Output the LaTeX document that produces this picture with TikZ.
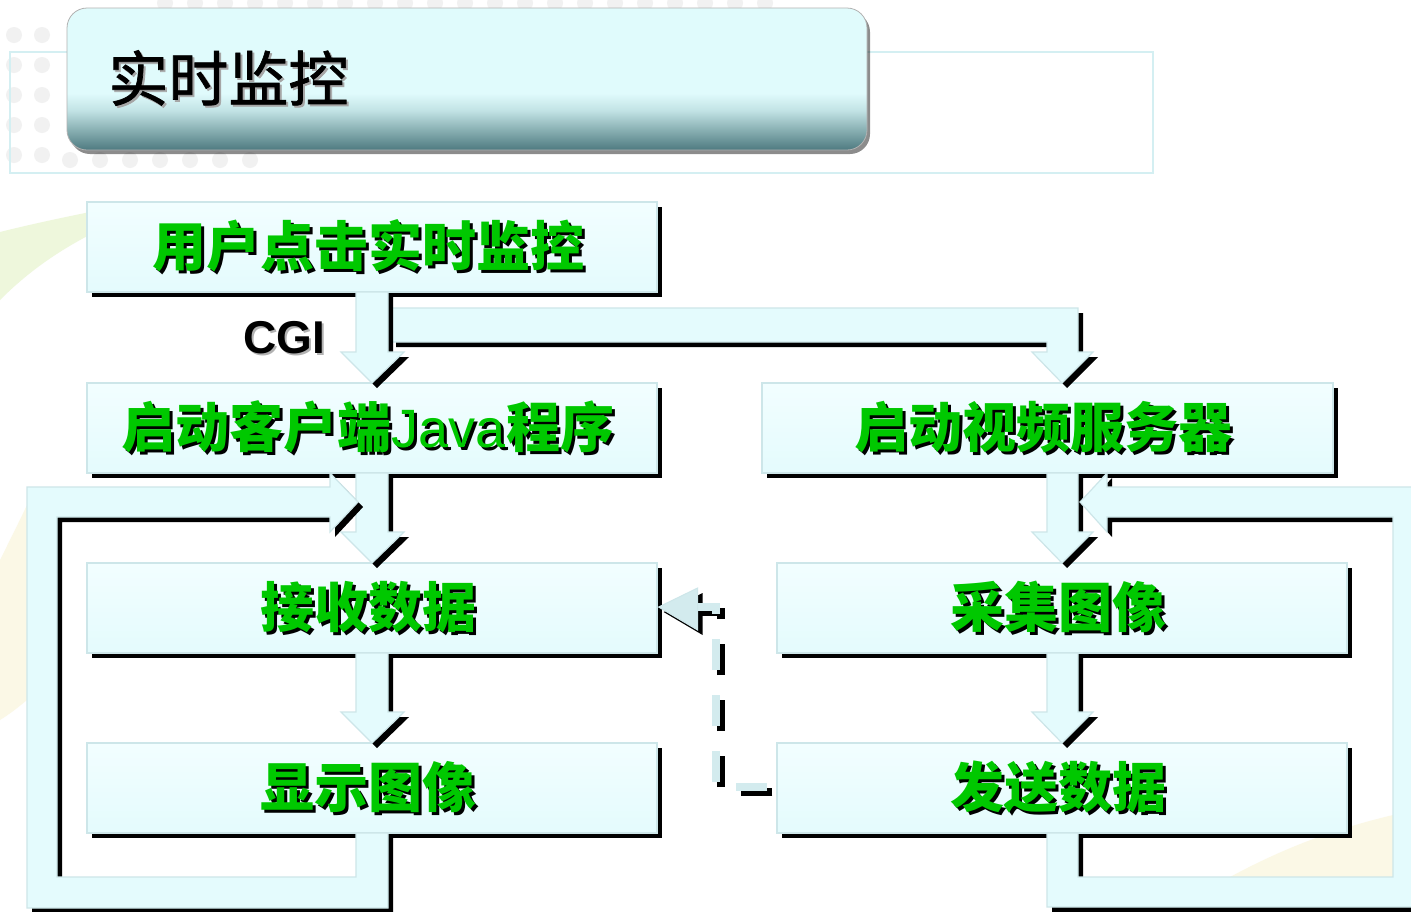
\documentclass[tikz,border=0pt]{standalone}
\usepackage{fontspec}
\setmainfont{Liberation Sans}
\newfontfamily\lat{Liberation Sans}
\newfontfamily\cjk{Noto Sans CJK SC}
\newfontfamily\cjkt[FakeBold=1.2]{Noto Sans CJK SC}
\usetikzlibrary{shadows}
\definecolor{boxfill}{HTML}{E4FBFD}
\definecolor{boxtop}{HTML}{F2FEFF}
\definecolor{boxline}{HTML}{CDE6E9}
\definecolor{txtgreen}{HTML}{00C800}
\definecolor{dashc}{HTML}{D3EBEE}
\definecolor{tdark}{HTML}{4E7A80}
\definecolor{tmid}{HTML}{88AFB2}
\definecolor{tlite}{HTML}{C2E3E5}
\definecolor{ttop}{HTML}{E0FBFC}
\definecolor{frameline}{HTML}{D4EFF2}
\definecolor{bandgreen}{HTML}{EEF7DC}
\definecolor{bandyellow}{HTML}{FBF8E6}
\definecolor{dotgray}{HTML}{F1F1F1}
\pgfdeclareverticalshading{titleshade}{100bp}{color(0bp)=(tdark); color(25bp)=(tdark); color(32bp)=(tmid); color(39bp)=(tlite); color(45bp)=(ttop); color(75bp)=(ttop); color(100bp)=(ttop)}
\tikzset{
  box/.style={draw=boxline, line width=0.6pt, top color=boxtop, bottom color=boxfill,
    minimum width=285pt, minimum height=45pt, inner sep=0pt,
    drop shadow={shadow xshift=2.5pt, shadow yshift=-2.5pt, fill=black, opacity=1}},
  gtxt/.style={text=txtgreen, font=\cjk\bfseries\fontsize{27}{30}\selectfont, inner sep=0pt},
  gsh/.style={text=black, font=\cjk\bfseries\fontsize{27}{30}\selectfont, inner sep=0pt},
  arrowfill/.style={draw=boxline, line width=0.6pt, fill=boxfill},
  titlebox/.style={shading=titleshade, draw=gray!60, line width=0.4pt, rounded corners=10pt,
    minimum width=400pt, minimum height=71pt, inner sep=0pt,
    drop shadow={shadow xshift=1.5pt, shadow yshift=-2pt, fill=black, opacity=0.45}},
  dashline/.style={line width=4pt, dash pattern=on 15.5pt off 12.5pt, dash phase=23.5pt},
}
\newcommand\blockarrow[1]{%
  \begin{scope}[shift={(5,5)}]\fill[black] #1;\end{scope}
  \filldraw[arrowfill] #1;}
\newcommand\boxlabel[3]{%
  \node[gsh] (#2s) at ([shift={(-1,2)}]#1.center) {#3};
  \node[gtxt] (#2) at ([shift={(-4,-1)}]#1.center) {#3};}
\begin{document}
\begin{tikzpicture}[x=0.5pt,y=-0.5pt]
\useasboundingbox (0,0) rectangle (1411,911);
\fill[white] (0,0) rectangle (1411,911);
% faint background bands and dots
\fill[bandgreen] (0,232) .. controls (40,222) and (80,214) .. (110,208) -- (95,232) .. controls (60,250) and (30,270) .. (0,300) -- cycle;
\fill[bandyellow] (0,560) .. controls (10,540) and (20,520) .. (27,505) -- (27,700) .. controls (15,710) and (8,715) .. (0,720) -- cycle;
\fill[bandyellow] (1230,877) .. controls (1280,850) and (1330,830) .. (1393,815) -- (1393,877) -- cycle;
\foreach \x in {165,195,...,765} \fill[dotgray] (\x,3) circle (8);
\foreach \y in {35,65,...,155} {\fill[dotgray] (14,\y) circle (8); \fill[dotgray] (42,\y) circle (8);}
\foreach \x in {70,100,...,250} \fill[dotgray] (\x,160) circle (8);
% faint frame behind the title
\draw[frameline, line width=0.6pt] (10,52) rectangle (1153,173);
% title
\node[titlebox] (title) at (467,79) {};
\node[text=gray!70, font=\cjkt\fontsize{30}{32}\selectfont, anchor=west, inner sep=0pt] (tts) at (110,80) {实时监控};
\node[text=black, font=\cjkt\fontsize{30}{32}\selectfont, anchor=west, inner sep=0pt] (tt) at (108,78) {实时监控};
% boxes
\node[box] (b1) at (372,247) {};
\node[box] (b2) at (372,428) {};
\node[box, minimum width=285.5pt] (b3) at (1047.5,428) {};
\node[box] (b4) at (372,608) {};
\node[box] (b5) at (372,788) {};
\node[box] (b6) at (1062,608) {};
\node[box] (b7) at (1062,788) {};
% block arrows
\blockarrow{(391,308) -- (1078,308) -- (1078,352) -- (1093,352) -- (1062,383) -- (1032,352) -- (1047,352) -- (1047,342) -- (391,342) -- cycle}
\blockarrow{(356,292) -- (388,292) -- (388,352) -- (404,352) -- (372,383) -- (341,352) -- (356,352) -- cycle}
\blockarrow{(356,473) -- (388,473) -- (388,532) -- (404,532) -- (372,563) -- (341,532) -- (356,532) -- cycle}
\blockarrow{(356,653) -- (388,653) -- (388,712) -- (404,712) -- (372,743) -- (341,712) -- (356,712) -- cycle}
\blockarrow{(1047,473) -- (1078,473) -- (1078,532) -- (1093,532) -- (1062,563) -- (1032,532) -- (1047,532) -- cycle}
\blockarrow{(1047,653) -- (1078,653) -- (1078,712) -- (1093,712) -- (1062,743) -- (1032,712) -- (1047,712) -- cycle}
% left loop
\blockarrow{(356,833) -- (388,833) -- (388,908) -- (27,908) -- (27,487) -- (330,487) -- (330,473) -- (358,502) -- (330,532) -- (330,517) -- (57,517) -- (57,877) -- (356,877) -- cycle}
% right loop
\blockarrow{(1047,833) -- (1078,833) -- (1078,877) -- (1393,877) -- (1393,517) -- (1107,517) -- (1107,532) -- (1080,502) -- (1107,473) -- (1107,487) -- (1423,487) -- (1423,907) -- (1047,907) -- cycle}
% dashed feedback arrow
\draw[black, dashline] ([shift={(5,4)}]b7.west) -- ++(-60,0) -- ++(0,-180) -- ++(-22,0);
\fill[black] ([shift={(6,4)}]b4.east) -- ++(39,-19) -- ++(0,42) -- cycle;
\draw[dashc, dashline] ([shift={(0,-1)}]b7.west) -- ++(-60,0) -- ++(0,-180) -- ++(-22,0);
\filldraw[draw=boxline, line width=0.5pt, fill=dashc] ([shift={(1,-1)}]b4.east) -- ++(39,-19) -- ++(0,42) -- cycle;
% CGI label
\node[text=gray!60, font=\lat\bfseries\fontsize{23}{25}\selectfont, inner sep=0pt] (cgis) at (286,340) {CGI};
\node[text=black, font=\lat\bfseries\fontsize{23}{25}\selectfont, inner sep=0pt] (cgi) at (284,338) {CGI};
% box texts
\boxlabel{b1}{t1}{用户点击实时监控}
\boxlabel{b2}{t2}{启动客户端{\lat\mdseries Java}程序}
\boxlabel{b3}{t3}{启动视频服务器}
\boxlabel{b4}{t4}{接收数据}
\boxlabel{b5}{t5}{显示图像}
\boxlabel{b6}{t6}{采集图像}
\boxlabel{b7}{t7}{发送数据}
\end{tikzpicture}
\end{document}
